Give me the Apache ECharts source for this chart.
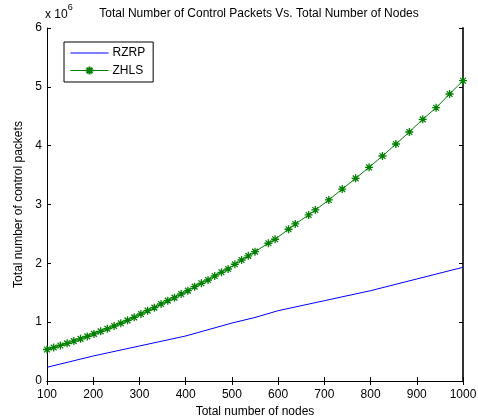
<!DOCTYPE html>
<html><head><meta charset="utf-8">
<script src="https://cdn.jsdelivr.net/npm/echarts@6/dist/echarts.min.js"></script>
<style>html,body{margin:0;padding:0;background:#fff}#c{width:478px;height:418px}</style>
</head><body><div id="c"></div>
<script>
// Data (values in units of 1e6 control packets)
const zhlsNodes = [100,114.5,129,143.5,158.1,172.6,187.1,201.6,216.1,230.6,245.2,259.7,274.2,288.7,303.2,317.7,332.3,346.8,361.3,375.8,390.3,404.8,419.4,433.9,448.4,462.9,477.4,491.9,506.5,521,535.5,550,579,593.5,622.6,637.1,666.1,680.6,709.7,738.7,767.7,796.8,825.8,854.8,883.9,912.9,941.9,971,1000];
const zhlsValues = [0.535,0.569,0.604,0.640,0.678,0.717,0.758,0.800,0.844,0.888,0.935,0.982,1.031,1.082,1.139,1.195,1.246,1.309,1.365,1.416,1.479,1.535,1.603,1.661,1.717,1.785,1.848,1.904,1.984,2.057,2.128,2.198,2.341,2.409,2.579,2.669,2.822,2.907,3.077,3.262,3.445,3.632,3.824,4.028,4.232,4.448,4.645,4.878,5.104];
const rzrpNodes = [100,200,300,400,500,550,600,700,800,900,1000];
const rzrpValues = [0.233,0.425,0.595,0.765,0.985,1.08,1.195,1.365,1.535,1.734,1.933];
const xTicks = [100,200,300,400,500,600,700,800,900,1000];
const yTicks = [0,1,2,3,4,5,6];

const FONT = '"Liberation Sans", Arial, sans-serif';
const star = 'path://M0,-5L0,5M-5,0L5,0M-3.6,-3.6L3.6,3.6M-3.6,3.6L3.6,-3.6';

const chart = echarts.init(document.getElementById('c'), null, {renderer:'canvas'});
const axisCommon = {
  axisLine:{show:true, lineStyle:{color:'#000', width:1}},
  axisTick:{show:true, inside:true, length:4, lineStyle:{color:'#000'}},
  splitLine:{show:false}
};
chart.setOption({
  animation:false,
  textStyle:{fontFamily:FONT},
  title:{text:'Total Number of Control Packets Vs. Total Number of Nodes', left:254, textAlign:'center', top:3,
    textStyle:{fontSize:12, fontWeight:'normal', color:'#000', fontFamily:FONT}},
  grid:{left:47, right:15, top:28, bottom:37, show:false, outerBoundsMode:'none', containLabel:false},
  legend:{orient:'vertical', left:64, top:42, padding:[5,8,5,6], itemGap:5, itemWidth:38, itemHeight:10,
    borderColor:'#000', borderWidth:1, backgroundColor:'#fff',
    lineStyle:{width:1},
    textStyle:{fontSize:12, color:'#000', fontFamily:FONT, padding:[0,0,0,-1]},
    data:[{name:'RZRP', icon:'path://M0,0H40V1H0Z', itemStyle:{color:'#0000ff'}}, {name:'ZHLS'}]},
  graphic:[{type:'text', left:45, top:3, style:{
    text:'{a|x 10}{b|6}', rich:{a:{fontSize:12, fontFamily:FONT, fill:'#000', padding:[6,0,0,0]}, b:{fontSize:9, fontFamily:FONT, fill:'#000', verticalAlign:'top'}}}}],
  xAxis:[
    Object.assign({type:'value', min:100, max:1000, interval:100, position:'bottom',
      name:'Total number of nodes', nameLocation:'middle', nameGap:23,
      nameTextStyle:{fontSize:12, color:'#000', fontFamily:FONT},
      axisLabel:{fontSize:12, color:'#000', margin:8, fontFamily:FONT,
        formatter:v=>xTicks.includes(v)?String(v):''}}, axisCommon),
    Object.assign({type:'value', min:100, max:1000, interval:100, position:'top', axisLabel:{show:false}}, axisCommon)
  ],
  yAxis:[
    Object.assign({type:'value', min:0, max:6, interval:1, position:'left',
      name:'Total number of control packets', nameLocation:'middle', nameGap:14,
      nameTextStyle:{fontSize:12, color:'#000', fontFamily:FONT},
      axisLabel:{fontSize:12, color:'#000', margin:5, fontFamily:FONT,
        formatter:v=>yTicks.includes(v)?String(v):''}}, axisCommon),
    Object.assign({type:'value', min:0, max:6, interval:1, position:'right', axisLabel:{show:false}}, axisCommon,
      {axisLine:{show:true, lineStyle:{color:'#333', width:2}}})
  ],
  series:[
    {name:'RZRP', type:'line', xAxisIndex:0, yAxisIndex:0, showSymbol:false, symbol:'none',
      lineStyle:{color:'#0000ff', width:1}, itemStyle:{color:'#0000ff'},
      data:rzrpNodes.map((n,i)=>[n, rzrpValues[i]])},
    {name:'ZHLS', type:'line', xAxisIndex:0, yAxisIndex:0, symbol:star, symbolSize:8, showAllSymbol:true,
      lineStyle:{color:'#008000', width:1},
      itemStyle:{color:'none', borderColor:'#008000', borderWidth:1.3},
      data:zhlsNodes.map((n,i)=>[n, zhlsValues[i]])}
  ]
});
</script></body></html>
